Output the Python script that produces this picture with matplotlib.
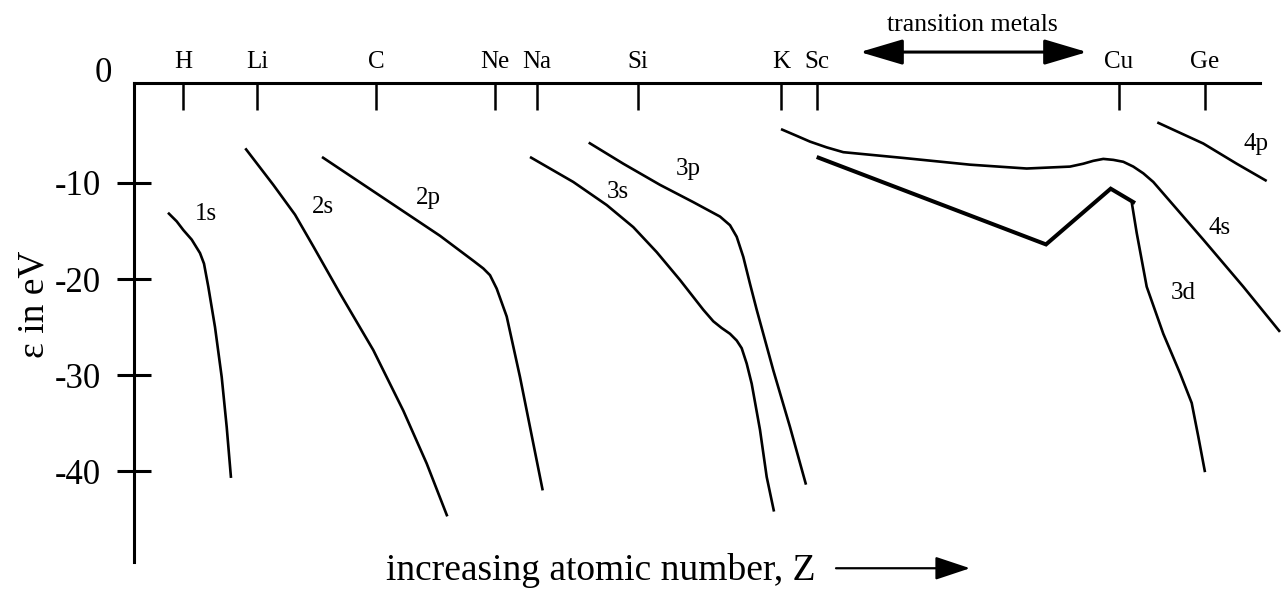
import matplotlib
matplotlib.use('Agg')
import matplotlib.pyplot as plt
from matplotlib.transforms import ScaledTranslation

plt.rcParams['font.family'] = ['Liberation Serif', 'DejaVu Serif']

# ---------------- data ----------------
# element markers along the top axis (horizontal position, increasing Z)
elements = ['H', 'Li', 'C', 'Ne', 'Na', 'Si', 'K', 'Sc', 'Cu', 'Ge']
element_pos = [49, 123, 242, 361, 403, 504, 647, 683, 985, 1071]

ytick_vals = [0, -10, -20, -30, -40]
ytick_labels = ['0', '-10', '-20', '-30', '-40']

# orbital energies (eV) versus horizontal position
s1_x = [34, 42.7, 49.3, 57.7, 66, 70, 74.3, 81, 87.7, 92.7, 97]
s1_y = [-13.1, -14.0, -14.9, -15.9, -17.3, -18.4, -20.8, -25.0, -30.2, -35.4, -40.7]

s2_x = [111.3, 139.3, 161, 179.3, 206, 239.3, 269.3, 292.7, 313.3]
s2_y = [-6.4, -10.2, -13.3, -16.6, -21.5, -27.4, -33.7, -39.2, -44.7]

p2_x = [188, 306, 339.3, 349.3, 356, 362.7, 372.7, 386, 396, 408.7]
p2_y = [-7.3, -15.5, -18.1, -18.9, -19.6, -21.0, -23.9, -30.2, -35.4, -42.0]

s3_x = [396, 439.3, 472.7, 499.3, 522.7, 546, 569.3, 579.3, 587.7, 596, 602.7,
        607.7, 612.7, 617.7, 626, 632.7, 640]
s3_y = [-7.3, -9.9, -12.3, -14.6, -17.2, -20.1, -23.2, -24.4, -25.1, -25.7, -26.4,
        -27.2, -28.8, -30.9, -35.7, -40.6, -44.2]

p3_x = [454.7, 489.3, 526, 559.3, 586, 596, 602.7, 609.3, 616, 622.7, 639.3, 656, 672]
p3_y = [-5.8, -8.0, -10.2, -12.0, -13.5, -14.4, -15.6, -17.7, -20.5, -23.2, -29.5, -35.4, -41.4]

s4_x = [647, 662.7, 676, 692.7, 709.3, 769.3, 836, 892.7, 936, 949.3, 959.3, 969.3,
        979.3, 989.3, 999.3, 1009.3, 1019.3, 1029.3, 1069.3, 1109.3, 1146]
s4_y = [-4.4, -5.1, -5.7, -6.3, -6.8, -7.4, -8.1, -8.5, -8.3, -8.0, -7.7, -7.5,
        -7.6, -7.8, -8.3, -9.0, -9.9, -11.1, -15.9, -20.8, -25.5]

d3_tm_x = [682.7, 912, 976.7, 1001]
d3_tm_y = [-7.3, -16.4, -10.6, -12.1]

d3_x = [997.7, 1002.7, 1012.7, 1029.3, 1046, 1057.7, 1064.3, 1071]
d3_y = [-12.0, -15.2, -20.8, -25.7, -29.8, -32.9, -36.4, -40.1]

p4_x = [1023.3, 1069.3, 1102.7, 1132.7]
p4_y = [-3.7, -5.9, -8.0, -9.8]

orbital_labels = ['1s', '2s', '2p', '3s', '3p', '4s', '3d', '4p']
orbital_label_x = [71.7, 188.7, 294.3, 484.3, 554.3, 1086, 1049.3, 1122]
orbital_label_y = [-13.2, -12.5, -11.6, -10.9, -8.5, -14.7, -21.5, -5.9]

# ---------------- figure ----------------
fig = plt.figure(figsize=(12.83, 5.93), dpi=100)
ax = fig.add_axes([134 / 1283, 31 / 593, 1126 / 1283, 479 / 593])
ax.set_xlim(0, 1126)
ax.set_ylim(-49.45, 0.4)

lw = 1.9
for xs, ys in [(s1_x, s1_y), (s2_x, s2_y), (p2_x, p2_y), (s3_x, s3_y),
               (p3_x, p3_y), (s4_x, s4_y), (d3_x, d3_y), (p4_x, p4_y)]:
    ax.plot(xs, ys, color='black', lw=lw, clip_on=False,
            solid_capstyle='butt', solid_joinstyle='round')
ax.plot(d3_tm_x, d3_tm_y, color='black', lw=2.9, clip_on=False,
        solid_capstyle='butt', solid_joinstyle='miter')

for lab, x, y in zip(orbital_labels, orbital_label_x, orbital_label_y):
    ax.text(x, y, lab, fontsize=18, ha='center', va='center')

# spines
for s in ['bottom', 'right']:
    ax.spines[s].set_visible(False)
ax.spines['top'].set_linewidth(2.2)
ax.spines['left'].set_linewidth(2.2)

# top element ticks
ax.xaxis.tick_top()
ax.set_xticks(element_pos, elements)
ax.tick_params(axis='x', direction='in', length=19.4, width=1.8,
               labelsize=18, pad=7)

# y ticks
ax.set_yticks(ytick_vals, ytick_labels)
ax.tick_params(axis='y', direction='inout', length=23.8, width=2.2,
               labelsize=25, pad=12)
for t, v in zip(ax.yaxis.get_major_ticks(), ytick_vals):
    if v == 0:
        t.tick1line.set_visible(False)
        t.label1.set_transform(t.label1.get_transform() +
                               ScaledTranslation(0.11, 0.17, fig.dpi_scale_trans))

ax.set_ylabel('ε in eV', fontsize=27)
ax.yaxis.set_label_coords(-0.0737, 0.5386)

# x label with arrow
ax.text(252, -51.3, 'increasing atomic number, Z', fontsize=27,
        ha='left', va='baseline', clip_on=False)
ax.annotate('', xy=(836, -50.1), xytext=(702, -50.1), xycoords='data',
            annotation_clip=False,
            arrowprops=dict(arrowstyle='-|>,head_length=21.6,head_width=7.2',
                            mutation_scale=1, lw=1.6, color='black',
                            shrinkA=0, shrinkB=0))

# transition metals
ax.text(838.5, 5.8, 'transition metals', fontsize=18.5, ha='center',
        va='baseline', clip_on=False)
ax.annotate('', xy=(953, 3.62), xytext=(726, 3.62), xycoords='data',
            annotation_clip=False,
            arrowprops=dict(arrowstyle='<|-|>,head_length=26.6,head_width=7.9',
                            mutation_scale=1, lw=2.2, color='black',
                            shrinkA=0, shrinkB=0))

fig.savefig('out.png', dpi=100)
